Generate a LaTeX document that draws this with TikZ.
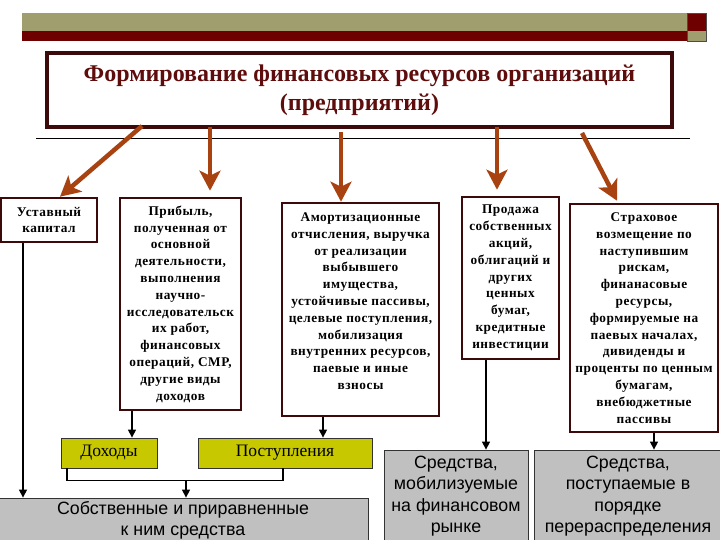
\documentclass[tikz,border=0pt]{standalone}
\usepackage{fontspec}
\setmainfont{Liberation Serif}
\newfontfamily\arialfont{Liberation Sans}
\usetikzlibrary{arrows.meta,calc}
\definecolor{barolive}{RGB}{160,158,110}
\definecolor{barred}{RGB}{110,0,0}
\definecolor{boxborder}{RGB}{60,10,10}
\definecolor{flow}{RGB}{168,66,16}
\definecolor{titlered}{RGB}{95,12,12}
\definecolor{incyellow}{RGB}{200,200,0}
\definecolor{fundgray}{RGB}{192,192,192}
\begin{document}
\begin{tikzpicture}[x=1pt,y=-1pt,line join=miter,
	sourcebox/.style={draw=boxborder,line width=2.6pt,fill=white,align=center,inner sep=0pt,
		font=\bfseries\fontsize{13.3}{16.8}\selectfont\addfontfeature{LetterSpace=4}},
	incbox/.style={draw=black!80,line width=0.8pt,fill=incyellow,inner sep=0pt,
		font=\fontsize{17.5}{19}\selectfont},
	fundbox/.style={draw=black!80,line width=0.8pt,fill=fundgray,align=center,inner sep=0pt,
		font=\arialfont\fontsize{17.8}{21.3}\selectfont},
	flowarrow/.style={draw=flow,line width=4.5pt,-{Stealth[length=20pt,width=21pt,inset=5pt]}},
	link/.style={draw=black,line width=1.3pt},
	linkarrow/.style={link,-{Triangle[length=8pt,width=8pt]}}]
	\useasboundingbox (0,0) rectangle (720,540);
	\clip (0,0) rectangle (720,540);
	% top bar
	\fill[barolive] (22,13) rectangle (687,31);
	\fill[barred] (22,31) rectangle (687,41);
	\fill[barred] (687,13) rectangle (706,31);
	\fill[barolive] (687,31) rectangle (706,41);
	\draw[black!70,line width=0.5pt] (687,13) rectangle (706,41);
	% title
	\node[draw=boxborder,line width=3.2pt,fill=white,minimum width=625pt,minimum height=74pt,
		align=center,text=titlered,font=\bfseries\fontsize{24}{29}\selectfont] (title) at (359.5,90)
		{Формирование финансовых ресурсов организаций\\(предприятий)};
	\draw[black,line width=0.9pt] (36,138)--(690,138);
	% sources
	\node[sourcebox,minimum width=96pt,minimum height=44pt] (ustav) at (49,220)
		{Уставный\\капитал};
	\node[sourcebox,minimum width=121pt,minimum height=212pt] (profit) at (180.5,304)
		{Прибыль,\\полученная от\\основной\\деятельности,\\выполнения\\научно-\\исследовательск\\их работ,\\финансовых\\операций, СМР,\\другие виды\\доходов};
	\node[sourcebox,minimum width=157pt,minimum height=213pt] (amort) at (360.5,309.5)
		{Амортизационные\\отчисления, выручка\\от реализации\\выбывшего\\имущества,\\устойчивые пассивы,\\целевые поступления,\\мобилизация\\внутренних ресурсов,\\паевые и иные\\взносы\\[0pt]};
	\node[sourcebox,minimum width=97pt,minimum height=162pt] (sale) at (510.5,278)
		{Продажа\\собственных\\акций,\\облигаций и\\других\\ценных\\бумаг,\\кредитные\\инвестиции};
	\node[sourcebox,minimum width=148pt,minimum height=228pt] (insur) at (644,318)
		{Страховое\\возмещение по\\наступившим\\рискам,\\финанасовые\\ресурсы,\\формируемые на\\паевых началах,\\дивиденды и\\проценты по ценным\\бумагам,\\внебюджетные\\пассивы};
	% arrows from the title
	\coordinate (s1) at (142,126);
	\coordinate (s2) at (210,127);
	\coordinate (s3) at (341,132);
	\coordinate (s4) at (497,127);
	\coordinate (s5) at (582,133);
	\draw[flowarrow] (s1)--([xshift=11pt]ustav.north);
	\draw[flowarrow] (s2)--([xshift=29.5pt,yshift=6pt]profit.north);
	\draw[flowarrow] (s3)--([xshift=-19.5pt]amort.north);
	\draw[flowarrow] (s4)--([xshift=-13.5pt,yshift=6pt]sale.north);
	\draw[flowarrow] (s5)--([xshift=-27pt,yshift=2pt]insur.north);
	% incomes and funds
	\node[incbox,minimum width=96pt,minimum height=30pt] (income) at (109,453) {Доходы};
	\node[incbox,minimum width=174pt,minimum height=30pt] (receipt) at (285,453) {Поступления};
	\node[fundbox,minimum width=370pt,minimum height=44pt] (own) at (183,520)
		{Собственные и приравненные\\к ним средства};
	\node[fundbox,minimum width=144pt,minimum height=92pt] (market) at (456,496)
		{Средства,\\мобилизуемые\\на финансовом\\рынке};
	\node[fundbox,minimum width=188pt,minimum height=92pt] (redist) at (628,496)
		{Средства,\\поступаемые в\\порядке\\перераспределения};
	% black links
	\coordinate (u) at ([xshift=-26pt]ustav.south);
	\draw[linkarrow] (u)--(u |- own.north);
	\coordinate (p) at ([xshift=-48.5pt]profit.south);
	\draw[linkarrow] (p)--(p |- income.north);
	\coordinate (m) at ([xshift=-37.5pt]amort.south);
	\draw[linkarrow] (m)--(m |- receipt.north);
	\draw[link] ([xshift=-42pt]income.south)--++(0,12) -| ([xshift=-2pt]receipt.south);
	\coordinate (j) at (186,480);
	\draw[linkarrow] (j)--(j |- own.north);
	\coordinate (q) at ([xshift=-24.5pt]sale.south);
	\draw[linkarrow] (q)--(q |- market.north);
	\coordinate (r) at ([xshift=10pt]insur.south);
	\draw[linkarrow] (r)--(r |- redist.north);
\end{tikzpicture}
\end{document}
